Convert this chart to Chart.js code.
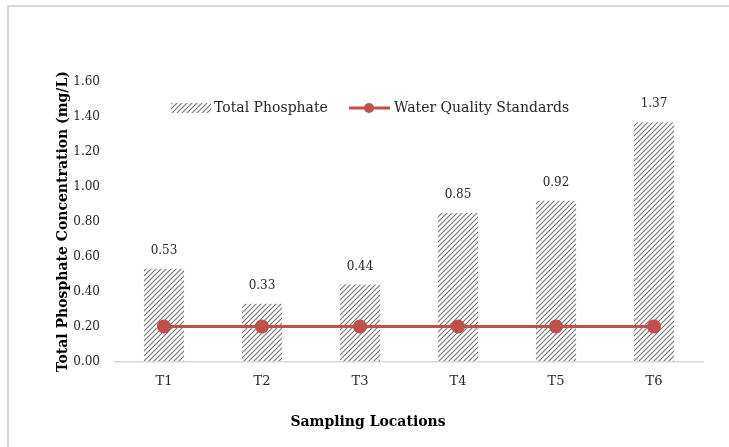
<!DOCTYPE html>
<html>
<head>
<meta charset="utf-8">
<script src="https://cdn.jsdelivr.net/npm/chart.js@4/dist/chart.umd.min.js"></script>
<style>
  html, body { margin: 0; padding: 0; background: #fff; }
  #wrap { position: relative; width: 729px; height: 447px; }
  #frame { position: absolute; left: 7px; top: 5px; right: -5px; bottom: -5px; border: 2px solid #d9d9d9; }
</style>
</head>
<body>
<div id="wrap">
  <div id="frame"></div>
  <canvas id="myChart" width="729" height="447"></canvas>
</div>
<script>
// Data
const locations = ['T1', 'T2', 'T3', 'T4', 'T5', 'T6'];
const totalPhosphate = [0.53, 0.33, 0.44, 0.85, 0.92, 1.37];
const qualityStandard = [0.20, 0.20, 0.20, 0.20, 0.20, 0.20];
const yTicks = [0, 0.2, 0.4, 0.6, 0.8, 1.0, 1.2, 1.4, 1.6];

const FONT = '"DejaVu Serif", "Liberation Serif", serif';
const RED = '#c0504d';

// hatch pattern for the bars
function makeHatch() {
  const c = document.createElement('canvas');
  c.width = 5; c.height = 5;
  const g = c.getContext('2d');
  g.fillStyle = '#ffffff';
  g.fillRect(0, 0, 5, 5);
  g.strokeStyle = '#747474';
  g.lineWidth = 1.1;
  g.beginPath();
  g.moveTo(-1, 6); g.lineTo(6, -1);
  g.moveTo(-1, 1); g.lineTo(1, -1);
  g.moveTo(4, 6); g.lineTo(6, 4);
  g.stroke();
  return g.createPattern(c, 'repeat');
}
const hatch = makeHatch();

// value labels above bars
const barLabels = {
  id: 'barLabels',
  afterDatasetsDraw(chart) {
    const ctx = chart.ctx;
    const meta = chart.getDatasetMeta(1);
    ctx.save();
    ctx.font = '12px ' + FONT;
    ctx.fillStyle = '#262626';
    ctx.textAlign = 'center';
    ctx.textBaseline = 'bottom';
    meta.data.forEach((bar, i) => {
      ctx.fillText(totalPhosphate[i].toFixed(2), bar.x, bar.y - 12);
    });
    ctx.restore();
  }
};

// legend inside the plot + x title centred on the whole chart, like the original
const extraText = {
  id: 'extraText',
  afterDraw(chart) {
    const ctx = chart.ctx;
    const y = 108;
    ctx.save();
    ctx.font = '14px ' + FONT;
    ctx.textBaseline = 'middle';
    // bar swatch
    ctx.fillStyle = hatch;
    ctx.fillRect(171, y - 5, 40, 10);
    ctx.fillStyle = '#262626';
    ctx.fillText('Total Phosphate', 214, y);
    // line swatch
    ctx.strokeStyle = RED;
    ctx.lineWidth = 3;
    ctx.beginPath();
    ctx.moveTo(349, y); ctx.lineTo(390, y);
    ctx.stroke();
    ctx.fillStyle = RED;
    ctx.beginPath();
    ctx.arc(369, y, 5, 0, Math.PI * 2);
    ctx.fill();
    ctx.fillStyle = '#262626';
    ctx.fillText('Water Quality Standards', 394, y);

    // x axis title
    ctx.font = 'bold 14px ' + FONT;
    ctx.fillStyle = '#000';
    ctx.textAlign = 'center';
    ctx.fillText('Sampling Locations', 368, 422);
    ctx.restore();
  }
};

const config = {
  data: {
    labels: locations,
    datasets: [{
      type: 'line',
      label: 'Water Quality Standards',
      data: qualityStandard,
      borderColor: RED,
      backgroundColor: RED,
      borderWidth: 3,
      pointRadius: 5.5,
      pointHoverRadius: 5.5,
      order: 0
    }, {
      type: 'bar',
      label: 'Total Phosphate',
      data: totalPhosphate,
      backgroundColor: hatch,
      borderWidth: 0,
      categoryPercentage: 1,
      barPercentage: 0.41,
      order: 1
    }]
  },
  options: {
    responsive: false,
    animation: false,
    layout: { padding: { left: 51, right: 26, top: 82, bottom: 46 } },
    plugins: {
      legend: { display: false },
      tooltip: { enabled: false }
    },
    scales: {
      x: {
        grid: { display: false, drawTicks: false },
        border: { color: '#d9d9d9', width: 1.5 },
        ticks: { color: '#262626', font: { family: FONT, size: 13 }, padding: 12 },
        title: { display: false }
      },
      y: {
        min: 0,
        max: 1.6,
        afterBuildTicks(axis) { axis.ticks = yTicks.map(v => ({ value: v })); },
        afterFit(axis) { axis.width = 64; },
        grid: { display: false, drawTicks: false },
        border: { display: false },
        ticks: {
          color: '#262626',
          font: { family: FONT, size: 12 },
          padding: 15,
          callback: v => Number(v).toFixed(2)
        },
        title: {
          display: true,
          text: 'Total Phosphate Concentration (mg/L)',
          color: '#000',
          font: { family: FONT, size: 14, weight: 'bold' },
          padding: { bottom: 0 }
        }
      }
    }
  },
  plugins: [barLabels, extraText]
};

const myChart = new Chart(document.getElementById('myChart'), config);
</script>
</body>
</html>
